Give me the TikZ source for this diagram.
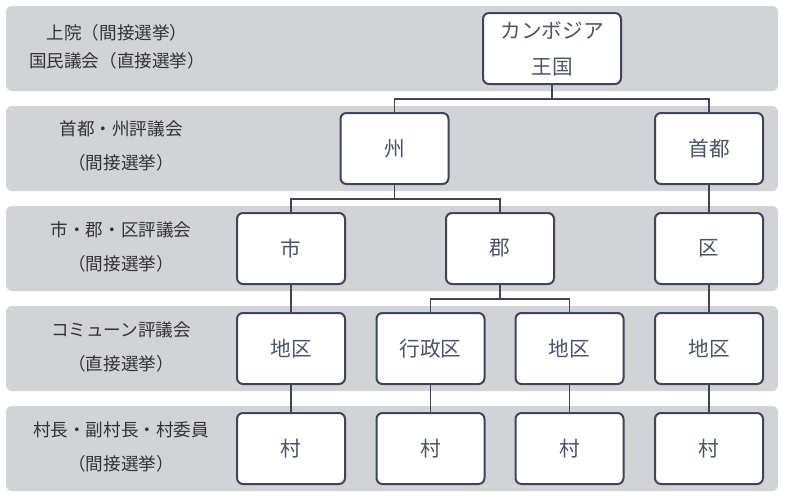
\documentclass[tikz,border=0pt]{standalone}
\usepackage{fontspec}
\setmainfont{Noto Sans CJK JP}
\definecolor{bandgray}{HTML}{D1D3D7}
\definecolor{edgeblue}{HTML}{3B4759}
\definecolor{inkblue}{HTML}{4A5568}
\tikzset{
  unitbox/.style={draw=edgeblue, fill=white, line width=1.5pt, rounded corners=4.5pt,
    minimum width=81pt, minimum height=53.25pt, text=inkblue, align=center,
    font=\fontsize{15.5}{27}\selectfont},
  bandlabel/.style={text=black!80, align=center, font=\fontsize{13.2}{26}\selectfont},
  link/.style={draw=edgeblue, line width=1.3pt}
}

\begin{document}
\begin{tikzpicture}[x=0.75pt, y=-0.75pt]
        \useasboundingbox (0, 0) rectangle (785, 500);
        \foreach \y in {6, 106, 206, 306, 406}
            \fill[bandgray, rounded corners=4.5pt] (6, \y) rectangle (778, \y + 85);
        \node[bandlabel, font=\fontsize{13.2}{21}\selectfont] (house) at (117, 47) {上院（間接選挙）\\国民議会（直接選挙）};
        \node[bandlabel] (provcouncil) at (121, 146) {首都・州評議会\\（間接選挙）};
        \node[bandlabel] (citycouncil) at (121, 247) {市・郡・区評議会\\（間接選挙）};
        \node[bandlabel] (communecouncil) at (121, 347) {コミューン評議会\\（直接選挙）};
        \node[bandlabel] (villagechiefs) at (121, 447) {村長・副村長・村委員\\（間接選挙）};
        \node[unitbox, minimum width=103.5pt] (kingdom) at (552, 48.5) {カンボジア\\王国};
        \node[unitbox] (province) at (394.5, 148.5) {州};
        \node[unitbox] (capital) at (709, 148.5) {首都};
        \node[unitbox] (city) at (291, 248.5) {市};
        \node[unitbox] (district) at (500, 248.5) {郡};
        \node[unitbox] (khan) at (709, 248.5) {区};
        \node[unitbox] (sangkatA) at (291, 348.5) {地区};
        \node[unitbox] (commune) at (430.5, 348.5) {行政区};
        \node[unitbox] (sangkatB) at (569.5, 348.5) {地区};
        \node[unitbox] (sangkatC) at (709, 348.5) {地区};
        \node[unitbox] (villageA) at (291, 448.5) {村};
        \node[unitbox] (villageB) at (430.5, 448.5) {村};
        \node[unitbox] (villageC) at (569.5, 448.5) {村};
        \node[unitbox] (villageD) at (709, 448.5) {村};
        \coordinate (kingdomfork) at (552, 99);
        \coordinate (provincefork) at (394.5, 199);
        \coordinate (districtfork) at (500, 299);
        \draw[link] (kingdom.south) -- (kingdomfork);
        \draw[link] (province.north) |- (kingdomfork) -| (capital.north);
        \draw[link] (province.south) -- (provincefork);
        \draw[link] (city.north) |- (provincefork) -| (district.north);
        \draw[link] (district.south) -- (districtfork);
        \draw[link] (commune.north) |- (districtfork) -| (sangkatB.north);
        \draw[link] (capital) -- (khan);
        \draw[link] (city) -- (sangkatA);
        \draw[link] (khan) -- (sangkatC);
        \draw[link] (sangkatA) -- (villageA);
        \draw[link] (commune) -- (villageB);
        \draw[link] (sangkatB) -- (villageC);
        \draw[link] (sangkatC) -- (villageD);
    \end{tikzpicture}
\end{document}
